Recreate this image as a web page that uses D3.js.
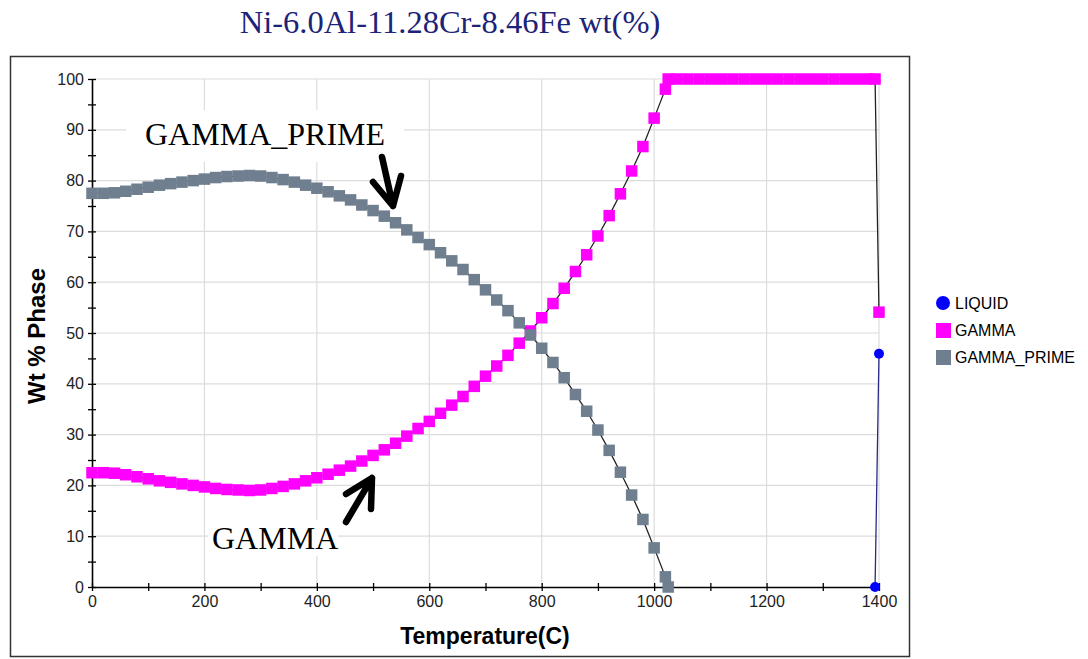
<!DOCTYPE html>
<html>
<head>
<meta charset="utf-8">
<style type="text/css">
    body { margin: 0; background: #ffffff; }
    svg { display: block; }
</style>
<script type="text/javascript" src="https://cdn.jsdelivr.net/npm/d3@7/dist/d3.min.js"></script>
</head>
<body>
<svg width="1088" height="659"></svg>
<script type="text/javascript">

    // teploty (C) a podiely fazy (wt %) odcitane z obrazka
    let gammaTemps = [0, 20, 40, 60, 80, 100, 120, 140, 160, 180, 200, 220, 240, 260, 280, 300,
        320, 340, 360, 380, 400, 420, 440, 460, 480, 500, 520, 540, 560, 580, 600, 620, 640, 660,
        680, 700, 720, 740, 760, 780, 800, 820, 840, 860, 880, 900, 920, 940, 960, 980, 1000, 1020,
        1025, 1040, 1060, 1080, 1100, 1120, 1140, 1160, 1180, 1200, 1220, 1240, 1260, 1280, 1300,
        1320, 1340, 1360, 1380, 1393, 1400];
    let gammaValues = [22.5, 22.5, 22.4, 22.1, 21.7, 21.3, 20.9, 20.6, 20.3, 20.0, 19.7, 19.4, 19.2,
        19.1, 19.0, 19.1, 19.4, 19.8, 20.3, 20.9, 21.5, 22.2, 23.0, 23.8, 24.8, 25.9, 27.0, 28.3,
        29.7, 31.2, 32.6, 34.2, 35.8, 37.5, 39.5, 41.5, 43.5, 45.6, 48.0, 50.4, 53.0, 55.8, 58.8,
        62.1, 65.4, 69.1, 73.1, 77.4, 81.9, 86.7, 92.3, 98.0,
        100, 100, 100, 100, 100, 100, 100, 100, 100, 100, 100, 100, 100, 100, 100, 100, 100, 100,
        100, 100, 54.1];

    let primeTemps = [0, 20, 40, 60, 80, 100, 120, 140, 160, 180, 200, 220, 240, 260, 280, 300,
        320, 340, 360, 380, 400, 420, 440, 460, 480, 500, 520, 540, 560, 580, 600, 620, 640, 660,
        680, 700, 720, 740, 760, 780, 800, 820, 840, 860, 880, 900, 920, 940, 960, 980, 1000, 1020,
        1025];
    let primeValues = [77.5, 77.5, 77.6, 77.9, 78.3, 78.7, 79.1, 79.4, 79.7, 80.0, 80.3, 80.6, 80.8,
        80.9, 81.0, 80.9, 80.6, 80.2, 79.7, 79.1, 78.5, 77.8, 77.0, 76.2, 75.2, 74.1, 73.0, 71.7,
        70.3, 68.8, 67.4, 65.8, 64.2, 62.5, 60.5, 58.5, 56.5, 54.4, 52.0, 49.6, 47.0, 44.2, 41.2,
        37.9, 34.6, 30.9, 26.9, 22.6, 18.1, 13.3, 7.7, 2.0, 0];

    let liquidTemps = [1393, 1400];
    let liquidValues = [0, 45.9];

    let xTicks = d3.range(0, 1401, 100);
    let yTicks = d3.range(0, 101, 5);
    let legendNames = ["LIQUID", "GAMMA", "GAMMA_PRIME"];
    let legendColors = ["#0000ff", "#ff00ff", "#6f7f8f"];

    var svg = d3.select("svg");

    var x = d3.scaleLinear().domain([0, 1400]).range([92, 879]);
    var y = d3.scaleLinear().domain([0, 100]).range([587, 79]);

    // ramik okolo grafu
    svg.append("rect")
        .attr("x", 10.5).attr("y", 56.5)
        .attr("width", 899).attr("height", 600)
        .attr("fill", "#ffffff")
        .attr("stroke", "#333333")
        .attr("stroke-width", 1.5);

    // titulok
    svg.append("text")
        .attr("x", 450).attr("y", 33)
        .attr("text-anchor", "middle")
        .attr("font-family", "'Liberation Serif', 'Times New Roman', serif")
        .attr("font-size", 32.5)
        .attr("fill", "#1c2378")
        .text("Ni-6.0Al-11.28Cr-8.46Fe wt(%)");

    // mriezka
    svg.append("g").selectAll("line")
        .data(xTicks.filter(d => d > 0 && d % 200 == 0))
        .enter().append("line")
        .attr("x1", d => x(d)).attr("x2", d => x(d))
        .attr("y1", y(100)).attr("y2", y(0))
        .attr("stroke", "#dcdcdc").attr("stroke-width", 1.2);
    svg.append("g").selectAll("line")
        .data(yTicks.filter(d => d > 0 && d % 10 == 0))
        .enter().append("line")
        .attr("x1", x(0)).attr("x2", x(1400))
        .attr("y1", d => y(d)).attr("y2", d => y(d))
        .attr("stroke", "#dcdcdc").attr("stroke-width", 1.2);

    // osi
    var yAxis = svg.append("g")
        .attr("transform", "translate(" + x(0) + ",0)")
        .call(d3.axisLeft(y).tickValues(yTicks).tickSizeInner(4).tickSizeOuter(0).tickPadding(4)
            .tickFormat(d => d % 10 == 0 ? d : ""));
    yAxis.selectAll(".tick line").attr("x1", 4).attr("x2", -4);

    var xAxis = svg.append("g")
        .attr("transform", "translate(0," + y(0) + ")")
        .call(d3.axisBottom(x).tickValues(xTicks).tickSizeInner(4).tickSizeOuter(0).tickPadding(5)
            .tickFormat(d => d % 200 == 0 ? d : ""));
    xAxis.selectAll(".tick line").attr("y1", -4).attr("y2", 4);

    svg.selectAll(".domain").attr("stroke", "#000").attr("stroke-width", 1.6);
    svg.selectAll(".tick line").attr("stroke", "#000").attr("stroke-width", 1.3);
    svg.selectAll(".tick text")
        .attr("font-family", "'Liberation Sans', Arial, sans-serif")
        .attr("font-size", 16)
        .attr("fill", "#222");

    // popisy osi
    svg.append("text")
        .attr("transform", "translate(45,336) rotate(-90)")
        .attr("text-anchor", "middle")
        .attr("font-family", "'Liberation Sans', Arial, sans-serif")
        .attr("font-weight", "bold")
        .attr("font-size", 24)
        .text("Wt % Phase");
    svg.append("text")
        .attr("x", 485).attr("y", 644)
        .attr("text-anchor", "middle")
        .attr("font-family", "'Liberation Sans', Arial, sans-serif")
        .attr("font-weight", "bold")
        .attr("font-size", 23)
        .text("Temperature(C)");

    // ciary
    var gammaData = gammaTemps.map((t, i) => [t, gammaValues[i]]);
    var primeData = primeTemps.map((t, i) => [t, primeValues[i]]);
    var liquidData = liquidTemps.map((t, i) => [t, liquidValues[i]]);

    var line = d3.line().x(d => x(d[0])).y(d => y(d[1]));

    svg.append("path").datum(gammaData)
        .attr("d", line).attr("fill", "none")
        .attr("stroke", "#222").attr("stroke-width", 1.3);
    svg.append("path").datum(primeData)
        .attr("d", line).attr("fill", "none")
        .attr("stroke", "#222").attr("stroke-width", 1.3);
    svg.append("path").datum(liquidData)
        .attr("d", line).attr("fill", "none")
        .attr("stroke", "#2a2a8a").attr("stroke-width", 1.3);

    // znacky
    var sq = 11.5;
    svg.append("g").selectAll("rect")
        .data(gammaData)
        .enter().append("rect")
        .attr("x", d => x(d[0]) - sq / 2)
        .attr("y", d => y(d[1]) - sq / 2)
        .attr("width", sq).attr("height", sq)
        .attr("fill", legendColors[1]);
    svg.append("g").selectAll("rect")
        .data(primeData)
        .enter().append("rect")
        .attr("x", d => x(d[0]) - sq / 2)
        .attr("y", d => y(d[1]) - sq / 2)
        .attr("width", sq).attr("height", sq)
        .attr("fill", legendColors[2]);
    svg.append("g").selectAll("circle")
        .data(liquidData)
        .enter().append("circle")
        .attr("cx", d => x(d[0]))
        .attr("cy", d => y(d[1]))
        .attr("r", 5)
        .attr("fill", legendColors[0]);

    // legenda
    var legend = svg.append("g");
    legendNames.forEach(function(name, i) {
        var ly = 303 + i * 27;
        if (i == 0) {
            legend.append("circle")
                .attr("cx", 943).attr("cy", ly).attr("r", 7)
                .attr("fill", legendColors[i]);
        } else {
            legend.append("rect")
                .attr("x", 936).attr("y", ly - 7)
                .attr("width", 15).attr("height", 15)
                .attr("fill", legendColors[i]);
        }
        legend.append("text")
            .attr("x", 955).attr("y", ly + 6)
            .attr("font-family", "'Liberation Sans', Arial, sans-serif")
            .attr("font-size", 16)
            .attr("fill", "#000")
            .text(name);
    });

    // anotacie so sipkami
    svg.append("rect")
        .attr("x", 126).attr("y", 110).attr("width", 278).attr("height", 52)
        .attr("fill", "#ffffff");
    svg.append("text")
        .attr("x", 145).attr("y", 145)
        .attr("font-family", "'Liberation Serif', 'Times New Roman', serif")
        .attr("font-size", 32)
        .attr("fill", "#000")
        .text("GAMMA_PRIME");

    svg.append("rect")
        .attr("x", 208).attr("y", 520).attr("width", 130).attr("height", 36)
        .attr("fill", "#ffffff");
    svg.append("text")
        .attr("x", 212).attr("y", 549)
        .attr("font-family", "'Liberation Serif', 'Times New Roman', serif")
        .attr("font-size", 32)
        .attr("fill", "#000")
        .text("GAMMA");

    var arrows = [
        "M382,157 L393,206 M373,182 L393,206 L401,176",
        "M346,522 L372,478 M346,494 L372,478 L371,509"
    ];
    svg.append("g").selectAll("path")
        .data(arrows)
        .enter().append("path")
        .attr("d", d => d)
        .attr("fill", "none")
        .attr("stroke", "#000")
        .attr("stroke-width", 6.5)
        .attr("stroke-linecap", "round")
        .attr("stroke-linejoin", "round");

</script>
</body>
</html>
